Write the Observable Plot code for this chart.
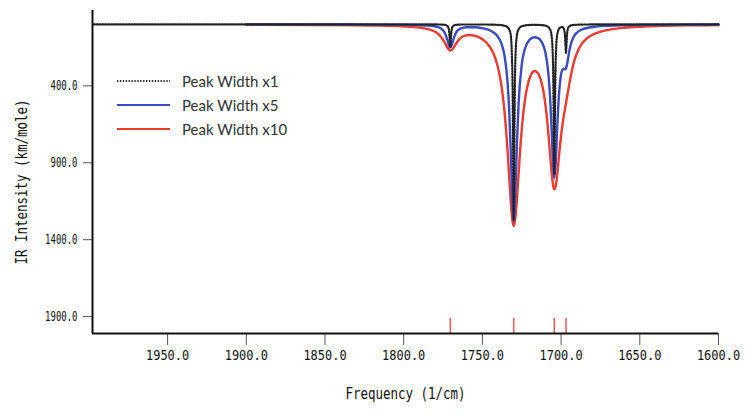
<!DOCTYPE html>
<html><head><meta charset="utf-8">
<script src="https://cdn.jsdelivr.net/npm/d3@7"></script>
<script src="https://cdn.jsdelivr.net/npm/@observablehq/plot@0.6"></script>
<style>
body{margin:0;background:#fff;}
#wrap{position:relative;width:751px;height:415px;}
.legend{position:absolute;left:117px;top:69px;font-family:Lato,"Open Sans",sans-serif;font-size:15px;color:#333;}
.row{display:flex;align-items:center;height:24px;}
.row svg{width:53px;height:6px;margin-right:12px;}
</style></head><body>
<div id="wrap"></div>
<script>
// Peak Width x1 (black dotted)
const x1Freq = [1997,1900,1800,1780,1774,1772,1771.2,1770.8,1770.4,1770,1769.6,1768.8,1767,1763,1750,1740,1735,1733,1732,1731.3,1730.8,1730.5,1730.1,1729.7,1729.4,1728.9,1728.2,1727,1725,1721,1717,1712,1709,1707,1706,1705.4,1704.9,1704.6,1704.3,1704.0,1703.7,1703.2,1702.5,1701.3,1700,1699,1698.2,1697.6,1697.2,1696.9,1696.6,1696.2,1695.6,1694.8,1693,1690,1685,1670,1600];
const x1Int = [0,0,0.1,0.5,3,13.5,40.7,88.4,145.6,89,41.3,13.5,3.7,1.0,0.9,3.4,12.4,32.5,68.4,188,429.5,774.8,1270.4,774.8,429.4,188.3,82.7,32.7,12.7,4.7,3.4,5.3,11.9,33.1,78.3,167.3,398.7,714.4,971.4,714.6,399,167.7,71.4,29,18,18.7,30.2,66.7,137.6,184.8,136.9,64.9,26.8,12.7,5.2,2.5,1.1,0.4,0];
// Peak Width x5 (blue)
const x5Freq = [1900,1850,1820,1800,1790,1785,1781,1778,1776,1774,1772,1771.2,1770.4,1769.6,1769,1767,1764,1760,1755,1750,1745,1741,1738,1736,1734,1733,1732,1731,1730.1,1729,1728,1727,1725,1723,1720,1717,1715,1712,1710,1708,1707,1706,1705,1704.3,1703.5,1702.5,1701.5,1700.5,1699.5,1698.5,1697.5,1696.9,1696,1695,1694,1692,1690,1687,1683,1678,1670,1660,1645,1625,1600];
const x5Int = [0.5,1.0,1.9,3.4,5.5,7.8,11.9,18.9,29.2,52.8,108.8,137.8,151.5,138.1,117.6,58.5,28.1,19.0,19.1,25.2,40.4,69.6,122.4,200.8,378,550,814,1134,1280.6,1075,757,513.7,261.8,159,99.8,83.8,87.8,121.3,182.4,329,473,690,928,1000,914,679,481,361,302,288,293,286.6,247,186,136.7,81.2,54.6,34.9,22.4,14.7,8.9,5.5,3.2,1.9,1.2];
// Peak Width x10 (red)
const x10Freq = [1900,1850,1820,1800,1790,1784,1780,1777,1774,1772,1770.4,1769,1767,1764,1761,1758,1755,1752,1749,1746,1743,1740,1738,1736,1734,1733,1732,1731,1730.1,1729,1728,1727,1725,1723,1721,1719,1717,1715,1713,1711,1709,1707,1706,1705,1704.3,1703.5,1702.5,1701,1699.5,1698,1696.9,1695.5,1694,1692,1690,1687,1684,1680,1675,1668,1660,1650,1635,1620,1600];
const x10Int = [2.1,4.1,7.5,13.6,21.5,32.5,48.4,72.5,117.5,155.4,170.6,161.8,129.1,89.8,73,69.4,73.7,84.9,104.2,135.7,188.5,283.2,390,560.4,822.6,985,1147,1269,1311,1255.5,1128,969,683.4,493.6,384,325,303.7,313.4,357.8,449,610,844,964.8,1050.6,1073,1055.8,979.6,820.5,680.3,577.2,513,430.5,344.5,251.7,188,129,94.4,67,47.3,31.9,22.2,15.4,9.9,7.0,4.7];
// Stick positions
const stickFreqs = [1770.4,1730.1,1704.3,1696.9];
// Axes
const xTicks = [1950,1900,1850,1800,1750,1700,1650,1600];
const yTicks = [400,900,1400,1900];
const xDomain = [1997.7,1600];
const yDomain = [-90,2010];
const stickLen = 98;
const xTitle = "Frequency (1/cm)";
const yTitle = "IR Intensity (km/mole)";
const seriesNames = ["Peak Width x1","Peak Width x5","Peak Width x10"];

const toRows = (fs, vs) => fs.map((f,i)=>({f, v: vs[i]}));
const d1 = toRows(x1Freq, x1Int), d5 = toRows(x5Freq, x5Int), d10 = toRows(x10Freq, x10Int);
const dotted = "1.3,1.6";

const chart = Plot.plot({
  width:751, height:415, marginLeft:92, marginRight:33, marginTop:10, marginBottom:82,
  style:{fontFamily:'"DejaVu Sans Mono", monospace', fontSize:"12px", color:"#111", background:"#fff"},
  x:{domain:xDomain},
  y:{domain:yDomain, reverse:true},
  marks:[
    Plot.ruleX(stickFreqs, {x:d=>d, y1:yDomain[1], y2:yDomain[1]-stickLen, stroke:"#ef5f6b", strokeWidth:1.6}),
    Plot.line(d10, {x:"f", y:"v", stroke:"#ee3b2f", strokeWidth:2.4, curve:"monotone-x"}),
    Plot.line(d5, {x:"f", y:"v", stroke:"#3a4cc0", strokeWidth:2.4, curve:"monotone-x"}),
    Plot.line(d1, {x:"f", y:"v", stroke:"#222", strokeWidth:2.2, strokeDasharray:dotted, curve:"monotone-x"}),
    Plot.axisX({ticks:xTicks, tickFormat:d=>d.toFixed(1), tickSize:12, tickPadding:5, label:null, stroke:"#555", fill:"#111", fontSize:14}),
    Plot.axisY({ticks:yTicks, tickFormat:d=>d.toFixed(1), tickSize:9, tickPadding:6, label:null, stroke:"#555", fill:"#111", fontSize:14}),
    Plot.ruleY([yDomain[1]], {stroke:"#111", strokeWidth:2}),
    Plot.ruleX([xDomain[0]], {stroke:"#111", strokeWidth:2}),
    Plot.text([xTitle], {frameAnchor:"bottom", dy:61, textAnchor:"middle", lineAnchor:"middle", fontSize:15, fill:"#111"}),
    Plot.text([yTitle], {frameAnchor:"left", dx:-70, dy:10, rotate:-90, textAnchor:"middle", lineAnchor:"middle", fontSize:15, fill:"#111"})
  ]
});
const sel = d3.select(chart);
sel.selectAll('g[aria-label="y-axis tick label"] text')
  .attr("textLength", function(){ return this.textContent.length*5.4; })
  .attr("lengthAdjust","spacingAndGlyphs");
sel.selectAll('g[aria-label="x-axis tick label"] text')
  .attr("textLength", function(){ return this.textContent.length*7.2; })
  .attr("lengthAdjust","spacingAndGlyphs");
sel.selectAll('g[aria-label="text"] text')
  .attr("textLength", function(){ return this.textContent.length*7.5; })
  .attr("lengthAdjust","spacingAndGlyphs");
const wrap = document.getElementById("wrap");
wrap.appendChild(chart);

// Legend
const legendStyles = [
  {stroke:"#222", dash:dotted},
  {stroke:"#3a4cc0", dash:null},
  {stroke:"#ee3b2f", dash:null}
];
const lg = document.createElement("div");
lg.className = "legend";
seriesNames.forEach((name,i)=>{
  const s = legendStyles[i];
  const row = document.createElement("div");
  row.className = "row";
  row.innerHTML = `<svg viewBox="0 0 53 6"><line x1="0" y1="3" x2="53" y2="3" stroke="${s.stroke}" stroke-width="2.2" ${s.dash?`stroke-dasharray="${s.dash}"`:""}/></svg><span>${name}</span>`;
  lg.appendChild(row);
});
wrap.appendChild(lg);
</script>
</body></html>
